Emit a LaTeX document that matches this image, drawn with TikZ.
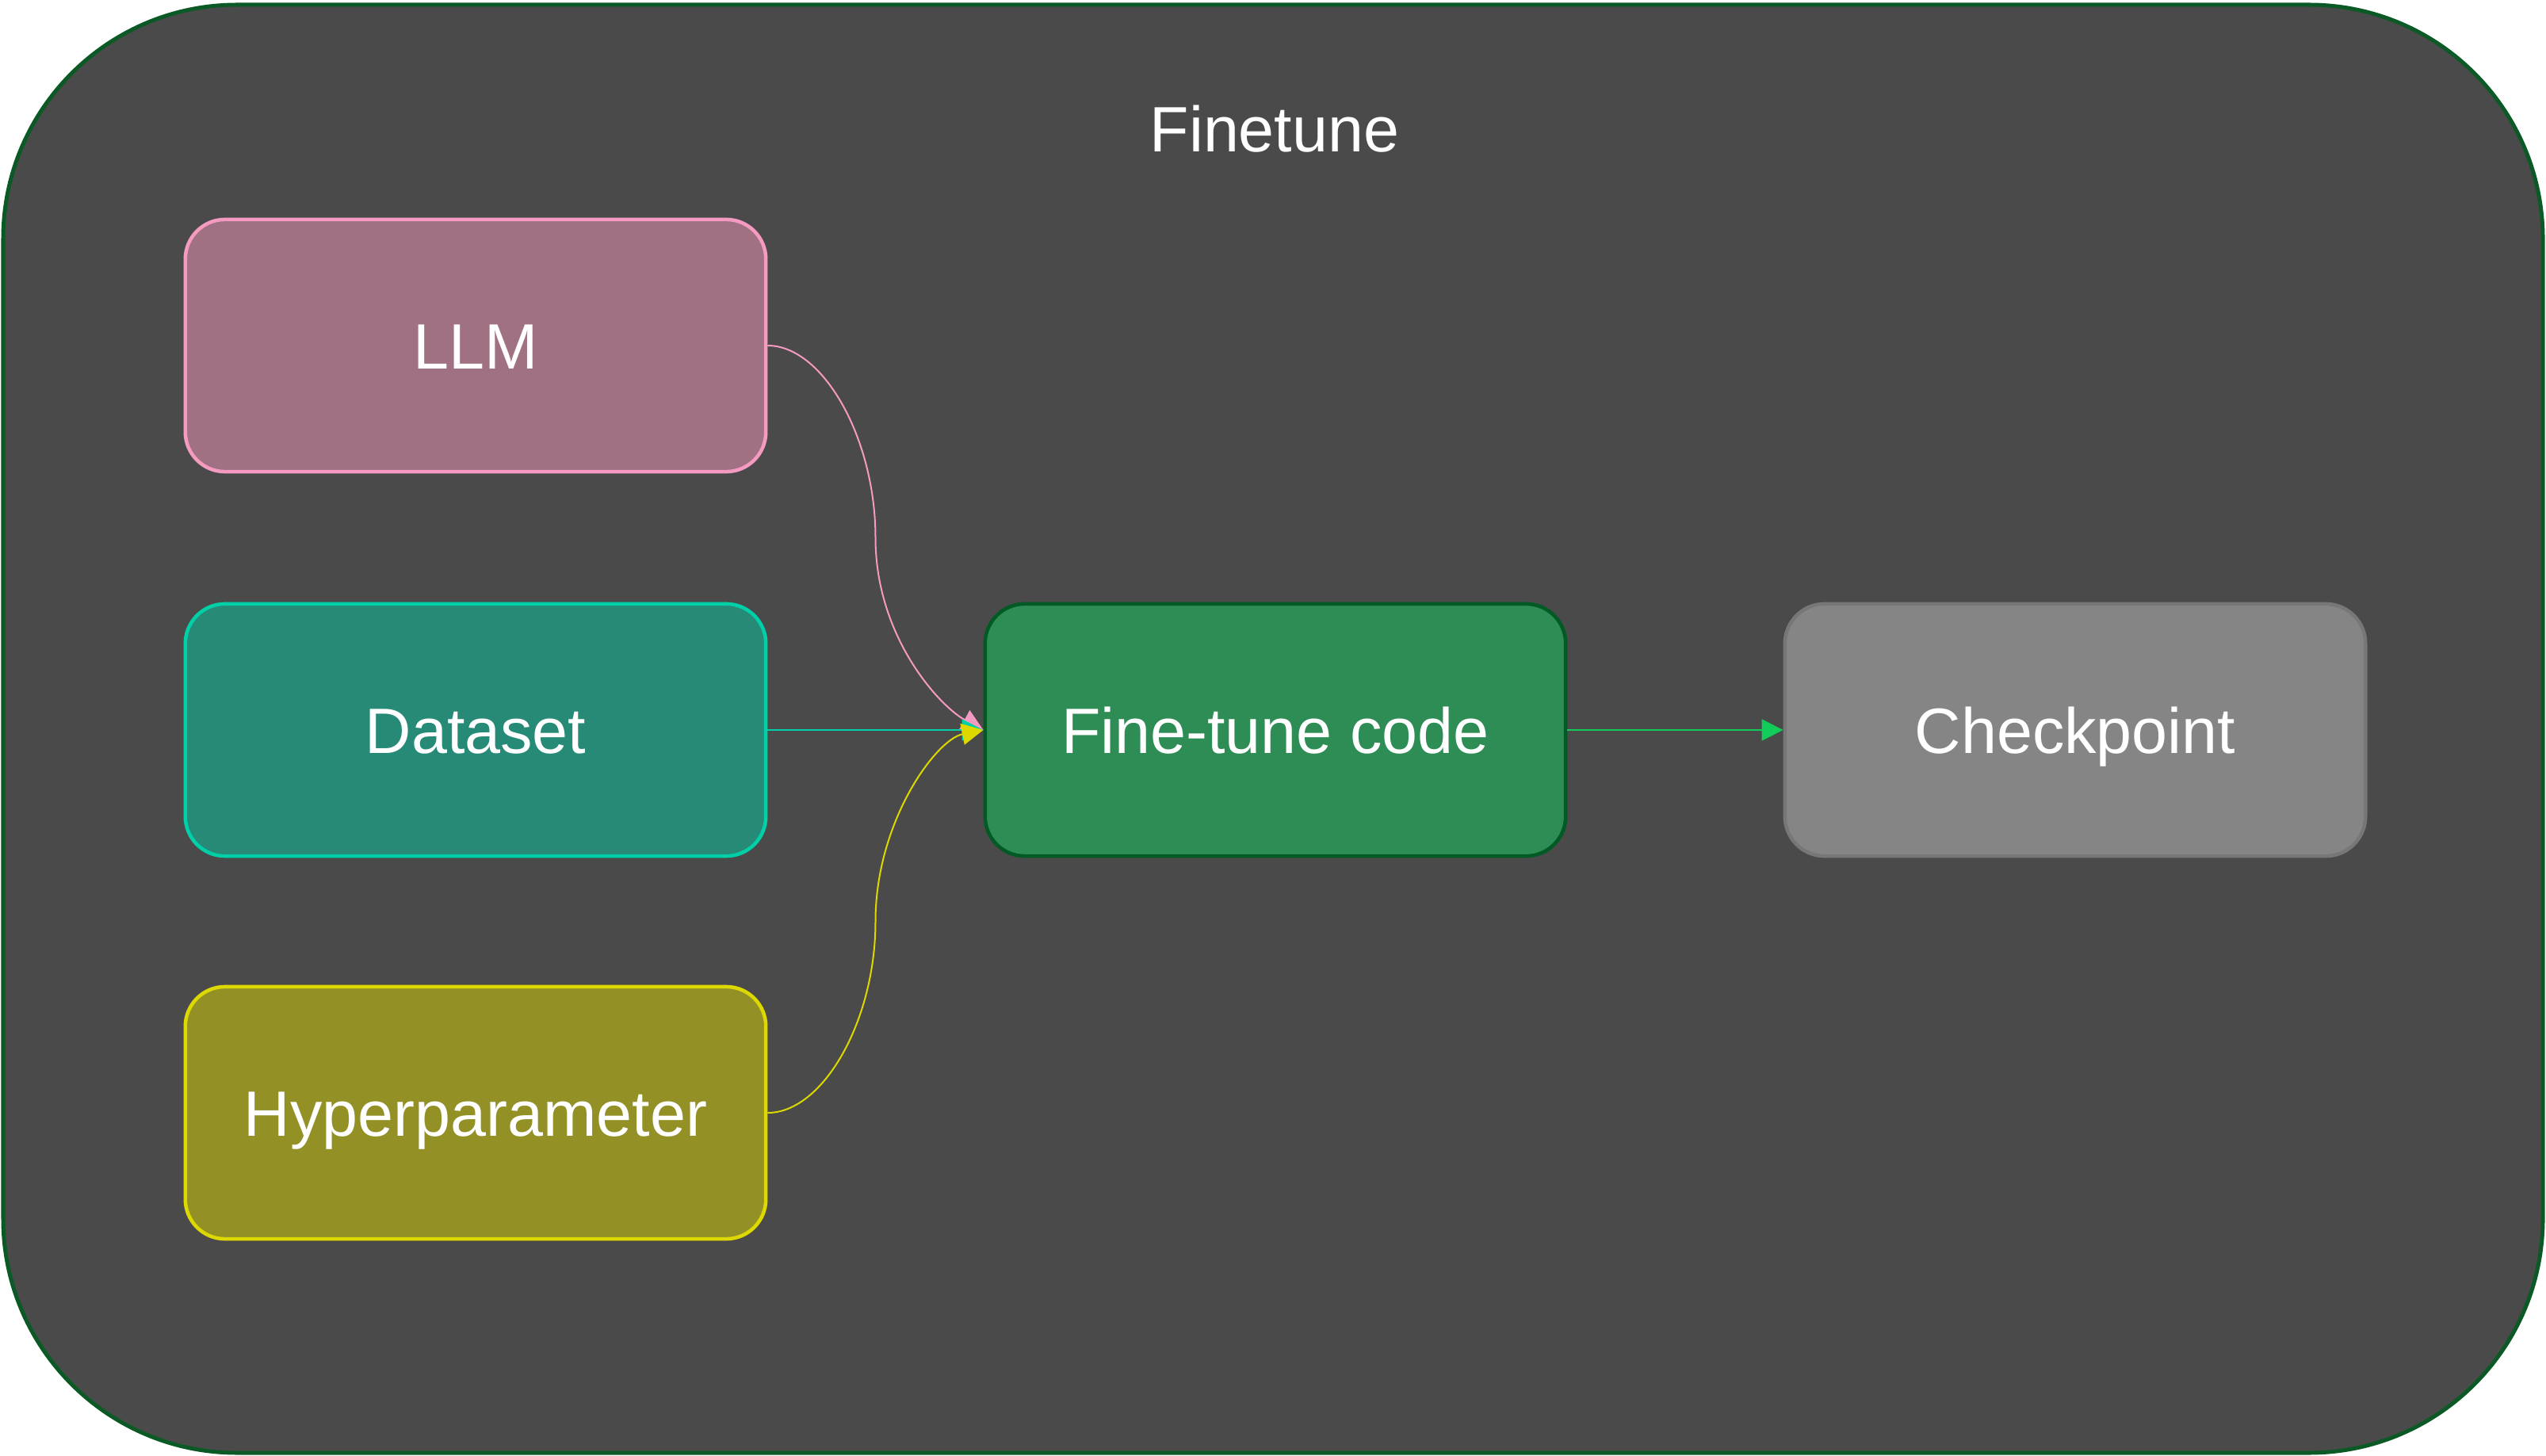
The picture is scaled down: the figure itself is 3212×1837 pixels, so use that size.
\documentclass[tikz,border=0pt]{standalone}
\usepackage{fontspec}
\setmainfont{Liberation Sans}
\usetikzlibrary{arrows.meta,calc}
\definecolor{bgfill}{HTML}{4A4A4A}
\definecolor{bgdraw}{HTML}{0B5A26}
\definecolor{llmfill}{HTML}{A07083}
\definecolor{llmdraw}{HTML}{F59AC0}
\definecolor{dsfill}{HTML}{268A77}
\definecolor{dsdraw}{HTML}{00D0A8}
\definecolor{hpfill}{HTML}{939126}
\definecolor{hpdraw}{HTML}{DCD800}
\definecolor{ftfill}{HTML}{2E8C55}
\definecolor{ftdraw}{HTML}{005A24}
\definecolor{cpfill}{HTML}{858585}
\definecolor{cpdraw}{HTML}{777777}
\definecolor{cparrow}{HTML}{12CC5A}
\tikzset{
  box/.style={rectangle, rounded corners=0.5cm, line width=0.045cm,
    minimum width=7.32cm, minimum height=3.18cm, inner sep=0pt,
    text height=0.8cm, text depth=0.22cm,
    text=white, font=\fontsize{23}{27.6}\selectfont},
  conn/.style={line width=0.02cm, -{Triangle[length=0.27cm,width=0.27cm]}},
  titletext/.style={text=white, font=\fontsize{23}{27.6}\selectfont, inner sep=0pt}
}
\begin{document}
\begin{tikzpicture}[x=0.01cm,y=-0.01cm]
\useasboundingbox (0,0) rectangle (3212,1837);
\draw[fill=bgfill, draw=bgdraw, line width=0.05cm, rounded corners=2.95cm] (4,6) rectangle (3208,1833);
\node[titletext, anchor=base] (title) at (1608,192) {Finetune};
\node[box, fill=llmfill, draw=llmdraw] (llm) at (600,436) {LLM};
\node[box, fill=dsfill, draw=dsdraw] (ds) at (600,921) {Dataset};
\node[box, fill=hpfill, draw=hpdraw] (hp) at (600,1404) {Hyperparameter};
\node[box, fill=ftfill, draw=ftdraw] (ft) at (1609,921) {Fine-tune code};
\node[box, fill=cpfill, draw=cpdraw] (cp) at (2618,921) {Checkpoint};
\coordinate (m1) at ($(llm.east)!0.5!(ft.west)$);
\coordinate (m2) at ($(hp.east)!0.5!(ft.west)$);
\draw[conn, draw=llmdraw] (llm.east) .. controls +(70,0) and +(0,-125) .. (m1) .. controls +(0,125) and +(-55,-30) .. (ft.west);
\draw[conn, draw=dsdraw] (ds.east) -- (ft.west);
\draw[conn, draw=hpdraw] (hp.east) .. controls +(70,0) and +(0,125) .. (m2) .. controls +(0,-125) and +(-60,12) .. (ft.west);
\draw[conn, draw=cparrow] (ft.east) -- (cp.west);
\end{tikzpicture}
\end{document}
